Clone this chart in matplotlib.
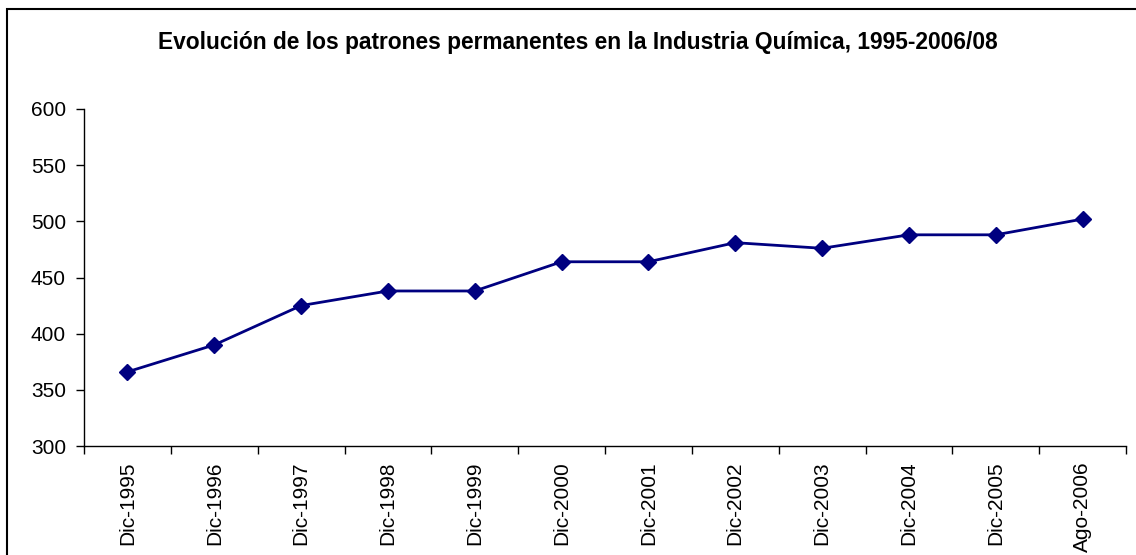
import matplotlib
matplotlib.use("Agg")
import matplotlib.pyplot as plt
from matplotlib.patches import Rectangle
import numpy as np

categories = ["Dic-1995", "Dic-1996", "Dic-1997", "Dic-1998", "Dic-1999", "Dic-2000",
              "Dic-2001", "Dic-2002", "Dic-2003", "Dic-2004", "Dic-2005", "Ago-2006"]
values = [366, 390, 425, 438, 438, 464, 464, 481, 476, 488, 488, 502]
yticks = [300, 350, 400, 450, 500, 550, 600]
title = "Evolución de los patrones permanentes en la Industria Química, 1995-2006/08"

plt.rcParams['font.family'] = ['Liberation Sans', 'DejaVu Sans']

W, H = 1136, 555
fig = plt.figure(figsize=(W / 100, H / 100), dpi=100)
ax = fig.add_axes([84 / W, 1 - 446 / H, (1126 - 84) / W, (446 - 109) / H])

x = np.arange(len(categories)) + 0.5
ax.plot(x, values, color='#000080', linewidth=2, marker='D', markersize=8,
        markerfacecolor='#000080', markeredgecolor='#000080', clip_on=False)

ax.set_xlim(0, len(categories))
ax.set_ylim(300, 600)
ax.set_yticks(yticks)
ax.set_yticklabels([str(v) for v in yticks], fontsize=15)
ax.set_xticks(np.arange(len(categories) + 1))
ax.set_xticklabels([])
ax.set_xticks(x, minor=True)
ax.set_xticklabels(categories, minor=True, rotation=90, fontsize=15)
ax.tick_params(axis='x', which='major', direction='out', length=6, width=1, color='black')
ax.tick_params(axis='x', which='minor', length=0, pad=11)
ax.tick_params(axis='y', direction='out', length=6, width=1, pad=7)

for s in ['top', 'right']:
    ax.spines[s].set_visible(False)
for s in ['left', 'bottom']:
    ax.spines[s].set_linewidth(1)
    ax.spines[s].set_color('black')

fig.text(578 / W, 1 - 42 / H, title, ha='center', va='center', fontsize=16.4, fontweight='bold')

frame = Rectangle((7 / W, -0.1), 1.2, (1 - 9 / H) + 0.1, transform=fig.transFigure,
                  fill=False, edgecolor='black', linewidth=1.5, clip_on=False)
fig.patches.append(frame)

fig.savefig("out.png", dpi=100)
